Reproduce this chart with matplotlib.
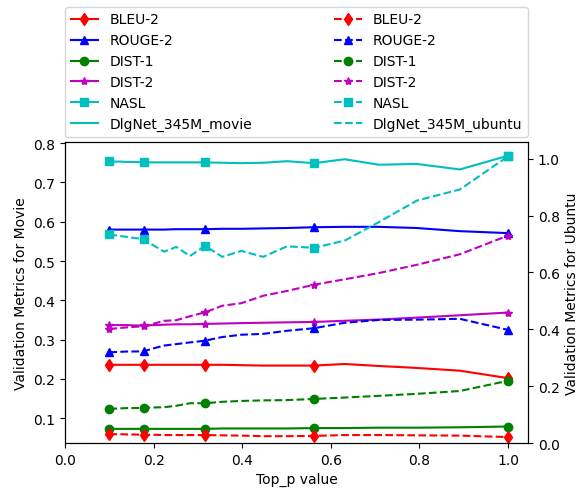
import numpy as np
import matplotlib
matplotlib.use("Agg")
import matplotlib.pyplot as plt
from matplotlib.lines import Line2D

# Top_p values (log-spaced grid)
top_p = [0.1, 0.112, 0.126, 0.141, 0.158, 0.178, 0.2, 0.224, 0.251, 0.282, 0.316,
         0.355, 0.398, 0.447, 0.501, 0.562, 0.631, 0.708, 0.794, 0.891, 1.0]

metric_names = ["BLEU-2", "ROUGE-2", "DIST-1", "DIST-2", "NASL"]

# Movie (left axis, solid)
bleu_movie = [0.236, 0.236, 0.236, 0.236, 0.236, 0.236, 0.236, 0.236, 0.236, 0.236, 0.236,
              0.236, 0.235, 0.234, 0.234, 0.234, 0.238, 0.233, 0.228, 0.221, 0.202]
rouge_movie = [0.580, 0.580, 0.580, 0.580, 0.580, 0.580, 0.580, 0.580, 0.581, 0.581, 0.581,
               0.582, 0.582, 0.583, 0.584, 0.586, 0.587, 0.587, 0.584, 0.576, 0.571]
dist1_movie = [0.073, 0.073, 0.073, 0.073, 0.073, 0.073, 0.073, 0.073, 0.073, 0.073, 0.073,
               0.074, 0.074, 0.074, 0.074, 0.075, 0.075, 0.076, 0.076, 0.077, 0.079]
dist2_movie = [0.337, 0.337, 0.337, 0.337, 0.336, 0.336, 0.337, 0.338, 0.339, 0.339, 0.340,
               0.341, 0.342, 0.343, 0.344, 0.345, 0.348, 0.351, 0.356, 0.362, 0.369]
nasl_movie = [0.754, 0.753, 0.753, 0.752, 0.752, 0.751, 0.751, 0.751, 0.751, 0.751, 0.751,
              0.750, 0.749, 0.750, 0.754, 0.749, 0.759, 0.745, 0.747, 0.733, 0.768]

# Ubuntu (right axis, dashed)
bleu_ubuntu = [0.032, 0.031, 0.031, 0.030, 0.030, 0.029, 0.029, 0.028, 0.028, 0.028, 0.028,
               0.027, 0.026, 0.024, 0.024, 0.025, 0.028, 0.028, 0.027, 0.026, 0.021]
rouge_ubuntu = [0.319, 0.320, 0.321, 0.322, 0.322, 0.323, 0.333, 0.343, 0.348, 0.354, 0.360,
                0.373, 0.381, 0.384, 0.395, 0.404, 0.423, 0.433, 0.434, 0.437, 0.398]
dist1_ubuntu = [0.120, 0.121, 0.122, 0.123, 0.123, 0.124, 0.125, 0.126, 0.131, 0.140, 0.140,
                0.145, 0.148, 0.150, 0.151, 0.155, 0.160, 0.166, 0.173, 0.183, 0.219]
dist2_ubuntu = [0.401, 0.403, 0.405, 0.407, 0.409, 0.410, 0.420, 0.430, 0.432, 0.446, 0.460,
                0.483, 0.492, 0.518, 0.535, 0.557, 0.576, 0.598, 0.627, 0.664, 0.730]
nasl_ubuntu = [0.734, 0.731, 0.728, 0.725, 0.721, 0.718, 0.695, 0.673, 0.690, 0.658, 0.694,
               0.655, 0.676, 0.655, 0.692, 0.687, 0.712, 0.777, 0.853, 0.892, 1.009]

movie_series = [bleu_movie, rouge_movie, dist1_movie, dist2_movie, nasl_movie]
ubuntu_series = [bleu_ubuntu, rouge_ubuntu, dist1_ubuntu, dist2_ubuntu, nasl_ubuntu]
colors = ["r", "b", "g", "m", "c"]
markers = ["d", "^", "o", "*", "s"]

fig = plt.figure(figsize=(5.8, 4.89), dpi=100)
ax = fig.add_axes([0.1121, 0.0920, 0.7983, 0.6149])
ax2 = ax.twinx()

solid_handles = []
dashed_handles = []
for name, ys, c, m in zip(metric_names, movie_series, colors, markers):
    l, = ax.plot(top_p, ys, color=c, marker=m, linestyle="-", markevery=5, label=name)
    solid_handles.append(l)
for name, ys, c, m in zip(metric_names, ubuntu_series, colors, markers):
    l, = ax2.plot(top_p, ys, color=c, marker=m, linestyle="--", markevery=5, label=name)
    dashed_handles.append(l)

solid_handles.append(Line2D([], [], color="c", linestyle="-"))
dashed_handles.append(Line2D([], [], color="c", linestyle="--"))
labels = metric_names + ["DlgNet_345M_movie"] + metric_names + ["DlgNet_345M_ubuntu"]

ax.set_xlim(0, 1.045)
ax.set_ylim(0.037, 0.802)
ax2.set_ylim(0, 1.058)
ax.set_xticks([0.0, 0.2, 0.4, 0.6, 0.8, 1.0])
ax2.set_yticks([0.0, 0.2, 0.4, 0.6, 0.8, 1.0])

ax.set_xlabel("Top_p value")
ax.set_ylabel("Validation Metrics for Movie")
ax2.set_ylabel("Validation Metrics for Ubuntu")

ax.legend(solid_handles + dashed_handles, labels, ncol=2,
          bbox_to_anchor=(0, 1.018, 1, 0.102), loc="lower left",
          mode="expand", borderaxespad=0)

fig.savefig("out.png", dpi=100)
